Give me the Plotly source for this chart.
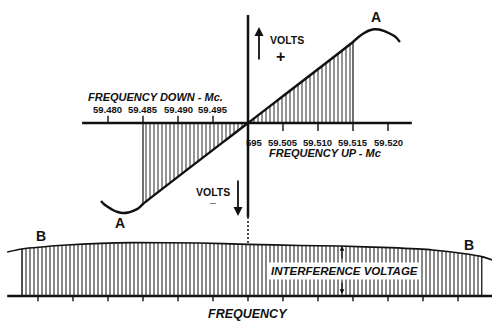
import plotly.graph_objects as go

# Discriminator characteristic (curve A): frequency in Mc, output in volts (relative)
disc_freq = [59.4790, 59.4794, 59.4800, 59.4807, 59.4814, 59.4821, 59.4829, 59.4836,
             59.4843, 59.4850, 59.5000, 59.5150, 59.5157, 59.5166, 59.5173, 59.5180,
             59.5187, 59.5194, 59.5201, 59.5209, 59.5213, 59.5217]
disc_volts = [-0.963, -1.000, -1.037, -1.074, -1.099, -1.111, -1.105, -1.086,
              -1.056, -1.000, 0.000, 1.000, 1.056, 1.111, 1.142, 1.157,
              1.154, 1.136, 1.111, 1.074, 1.043, 1.000]

# Linear working range that is shaded
lin_start, lin_end = 9, 11

# Scale ticks and labels on the frequency axis
down_ticks = [59.480, 59.485, 59.490, 59.495]
down_labels = ["59.480", "59.485", "59.490", "59.495"]
up_ticks = [59.505, 59.510, 59.515, 59.520]
up_labels = ["59.505", "59.510", "59.515", "59.520"]

# Interference voltage envelope (curve B), relative level
band_freq = [59.4656, 59.4677, 59.4741, 59.4789, 59.4836, 59.4931, 59.5000,
             59.5074, 59.5131, 59.5203, 59.5264, 59.5313, 59.5334, 59.5349]
band_level = [0.830, 0.887, 0.962, 0.994, 1.006, 1.000, 0.975,
              0.953, 0.943, 0.911, 0.868, 0.792, 0.742, 0.679]
band_ticks = [59.470, 59.475, 59.480, 59.485, 59.490, 59.495, 59.500,
              59.505, 59.510, 59.515, 59.520, 59.525, 59.530]

W, H = 492, 323
CENTER = 59.500
INK = "#111"


def px(x):
    return x / W


def py(y):
    return 1 - y / H


def segments(xs, y0, y1):
    sx, sy = [], []
    for x in xs:
        sx += [x, x, None]
        sy += [y0, y1, None]
    return sx, sy


def line_trace(x, y, width, yaxis="y", dash=None, shape="linear"):
    return go.Scatter(x=x, y=y, yaxis=yaxis, mode="lines",
                      line=dict(color=INK, width=width, dash=dash, shape=shape,
                                smoothing=0.5 if shape == "spline" else None),
                      hoverinfo="skip", showlegend=False)


fig = go.Figure()

# Shaded linear region of curve A
fig.add_trace(go.Scatter(
    x=disc_freq[lin_start:lin_end + 1], y=disc_volts[lin_start:lin_end + 1],
    mode="lines", line=dict(width=0, color=INK), fill="tozeroy",
    fillcolor="rgba(0,0,0,0)",
    fillpattern=dict(shape="|", size=4, solidity=0.45, fgcolor=INK, bgcolor="white"),
    hoverinfo="skip", showlegend=False))

# Shaded interference band
fig.add_trace(go.Scatter(
    x=band_freq[1:-1], y=band_level[1:-1], yaxis="y2",
    mode="lines", line=dict(width=0, color=INK), fill="tozeroy",
    fillcolor="rgba(0,0,0,0)",
    fillpattern=dict(shape="|", size=4, solidity=0.5, fgcolor=INK, bgcolor="white"),
    hoverinfo="skip", showlegend=False))

# Vertical edges of the shaded areas
fig.add_trace(line_trace([band_freq[1], band_freq[1], None, band_freq[-2], band_freq[-2]],
                         [0, band_level[1], None, 0, band_level[-2]], 1.2, yaxis="y2"))
fig.add_trace(line_trace([disc_freq[lin_start], disc_freq[lin_start], None,
                          disc_freq[lin_end], disc_freq[lin_end]],
                         [0, disc_volts[lin_start], None, 0, disc_volts[lin_end]], 1.2))

# Curve A
fig.add_trace(line_trace(disc_freq, disc_volts, 2.4, shape="spline"))

# Curve B
fig.add_trace(line_trace(band_freq, band_level, 1.7, yaxis="y2", shape="spline"))

# Frequency axis with ticks (down side ticks above, up side ticks below)
fig.add_trace(line_trace([59.4763, 59.5234], [0, 0], 2.5))
tx, ty = segments(down_ticks, 0, 0.09)
fig.add_trace(line_trace(tx, ty, 1.4))
tx, ty = segments(up_ticks, 0, -0.1)
fig.add_trace(line_trace(tx, ty, 1.4))

# Voltage axis: solid above, dotted below
fig.add_trace(line_trace([CENTER, CENTER], [1.333, -1.16], 2.5))
fig.add_trace(line_trace([CENTER, CENTER], [-1.16, -2.15], 1.5, dash="2px,2px"))

# Baseline of the interference band with scale ticks
fig.add_trace(line_trace([band_freq[0], band_freq[-1]], [0, 0], 2.3, yaxis="y2"))
bx, by = segments(band_ticks, 0, -0.1)
fig.add_trace(line_trace(bx, by, 1.4, yaxis="y2"))

FONT = "Liberation Sans"
ann = []


def label(x, y, text, size=10, italic=False, bold=True, **kw):
    t = text
    if bold:
        t = "<b>" + t + "</b>"
    if italic:
        t = "<i>" + t + "</i>"
    d = dict(x=px(x), y=py(y), xref="paper", yref="paper", text=t, showarrow=False,
             font=dict(family=FONT, size=size, color=INK), xanchor="center", yanchor="middle")
    d.update(kw)
    ann.append(d)


def arrow(x, y, ay, width=1.8, size=1.0):
    ann.append(dict(x=px(x), y=py(y), xref="paper", yref="paper", text="", showarrow=True,
                    ax=0, ay=ay, arrowhead=2, arrowsize=size, arrowwidth=width,
                    arrowcolor=INK))


label(155, 97, "FREQUENCY DOWN - Mc.", size=11, italic=True)
for f, t in zip(down_ticks, down_labels):
    label(248 + (f - CENTER) * 7000, 109, t, size=9.5)
label(254, 142, "595", size=9.5)
for f, t in zip(up_ticks, up_labels):
    label(248 + (f - CENTER) * 7000, 142, t, size=9.5)
label(325, 153, "FREQUENCY UP - Mc", size=11, italic=True)

label(287, 40, "VOLTS", size=10.5)
label(280, 56, "+", size=16)
arrow(259, 27, 34)
label(213, 192, "VOLTS", size=10.5)
label(213, 203, "—", size=6)
arrow(238, 216, -37)

label(376, 17, "A", size=14)
label(120, 223, "A", size=14)
label(41, 236, "B", size=14)
label(469, 245, "B", size=14)

label(344, 271, "INTERFERENCE VOLTAGE", size=11.5, italic=True, bgcolor="white", borderpad=2)
arrow(342, 246, 14, width=1.2, size=0.8)
arrow(342, 294, -13, width=1.2, size=0.8)

label(248, 314, "FREQUENCY", size=12.5, italic=True)

fig.update_layout(
    width=W, height=H, margin=dict(l=0, r=0, t=0, b=0),
    paper_bgcolor="white", plot_bgcolor="white", showlegend=False,
    xaxis=dict(range=[CENTER - 248 / 7000, CENTER + 244 / 7000], visible=False),
    yaxis=dict(range=[(123 - 323) / 81, 123 / 81], visible=False),
    yaxis2=dict(range=[(296 - 323) / 53, 296 / 53], visible=False, overlaying="y"),
    annotations=ann,
)

fig.write_html("out.html")
